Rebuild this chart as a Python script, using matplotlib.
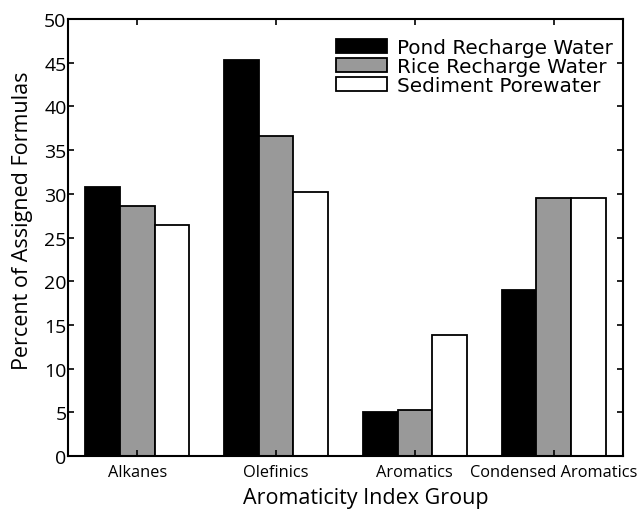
import numpy as np
import matplotlib
matplotlib.use('Agg')
import matplotlib.pyplot as plt

# Aromaticity index groups and percent of assigned formulas per sample type
groups = ['Alkanes', 'Olefinics', 'Aromatics', 'Condensed Aromatics']
pond = [30.8, 45.3, 5.0, 19.0]
rice = [28.6, 36.6, 5.3, 29.5]
sediment = [26.4, 30.2, 13.9, 29.5]
series_names = ['Pond Recharge Water', 'Rice Recharge Water', 'Sediment Porewater']
yticks = [0, 5, 10, 15, 20, 25, 30, 35, 40, 45, 50]


def main():
    fig = plt.figure(figsize=(6.43, 5.10), dpi=100)
    ax = fig.add_axes([68 / 643, 1 - 457 / 510, 555 / 643, 437 / 510])

    x = np.arange(1, len(groups) + 1)
    w = 0.25
    colors = ['black', '#999999', 'white']
    for i, (vals, name) in enumerate(zip([pond, rice, sediment], series_names)):
        ax.bar(x + (i - 1) * w, vals, width=w, color=colors[i],
               edgecolor='black', linewidth=1.3, label=name)

    ax.set_xlim(0.5, 4.5)
    ax.set_ylim(0, 50)
    ax.set_xticks(x)
    ax.set_xticklabels(groups, family='Open Sans', fontsize=11.8)
    ax.set_yticks(yticks)
    ax.set_yticklabels([str(v) for v in yticks], family='Open Sans', fontsize=14)
    ax.tick_params(direction='in', top=True, right=True, length=4, width=1.2)
    ax.tick_params(axis='x', pad=6)
    ax.tick_params(axis='y', pad=1)
    for s in ax.spines.values():
        s.set_linewidth(1.5)

    ax.set_xlabel('Aromaticity Index Group', family='Open Sans', fontsize=15.5)
    ax.set_ylabel('Percent of Assigned Formulas', family='Open Sans', fontsize=15.5)
    # labels sit a little off the axes centre
    ax.xaxis.set_label_coords(0.537, -0.071)
    ax.yaxis.set_label_coords(-0.063, 0.54)

    ax.legend(loc='upper right', bbox_to_anchor=(0.982, 0.9565), frameon=False,
              handlelength=2.55, handleheight=0.7, handletextpad=0.5,
              labelspacing=0.0, borderaxespad=0.0, borderpad=0.0,
              prop={'family': 'DejaVu Sans', 'size': 14.4})

    plt.savefig('out.png', dpi=100)


if __name__ == '__main__':
    main()
